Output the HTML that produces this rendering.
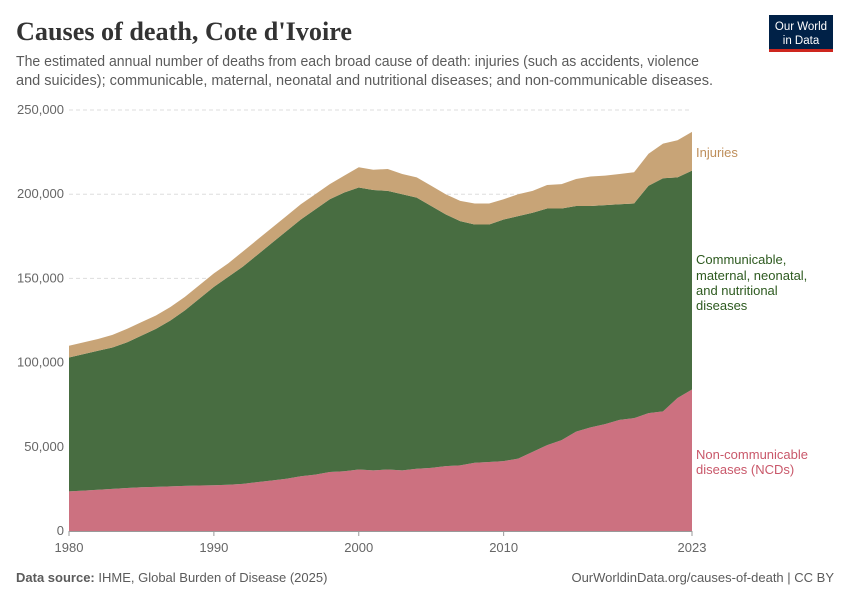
<!DOCTYPE html>
<html><head><meta charset="utf-8"><style>
body{margin:0;background:#fff;}
svg{display:block;font-family:"Liberation Sans",sans-serif;}
</style></head><body>
<svg id="chart" width="850" height="600" viewBox="0 0 850 600">
<text x="16" y="40" font-family="Liberation Serif,serif" font-size="26" font-weight="bold" fill="#333" textLength="336" lengthAdjust="spacingAndGlyphs">Causes of death, Cote d'Ivoire</text>
<text x="16" y="66" font-size="14.5" fill="#5b5b5b" textLength="683" lengthAdjust="spacingAndGlyphs">The estimated annual number of deaths from each broad cause of death: injuries (such as accidents, violence</text>
<text x="16" y="85" font-size="14.5" fill="#5b5b5b" textLength="697" lengthAdjust="spacingAndGlyphs">and suicides); communicable, maternal, neonatal and nutritional diseases; and non-communicable diseases.</text>
<g>
<rect x="769" y="15" width="64" height="35" fill="#002147"/>
<rect x="769" y="49" width="64" height="3" fill="#ce261e"/>
<text x="801" y="30" font-size="11.5" fill="#fff" text-anchor="middle">Our World</text>
<text x="801" y="44" font-size="11.5" fill="#fff" text-anchor="middle">in Data</text>
</g>
<g id="grid"></g>
<g id="areas"></g>
<g id="axes"></g>
<text x="696" y="157" font-size="13" fill="#be8e5a">Injuries</text>
<g font-size="13" fill="#2d5a1f">
<text x="696" y="264">Communicable,</text><text x="696" y="280">maternal, neonatal,</text><text x="696" y="295">and nutritional</text><text x="696" y="310">diseases</text></g>
<g font-size="13" fill="#c9586a">
<text x="696" y="459">Non-communicable</text><text x="696" y="474">diseases (NCDs)</text></g>
<text x="16" y="582" font-size="13" fill="#5b5b5b"><tspan font-weight="bold">Data source:</tspan> IHME, Global Burden of Disease (2025)</text>
<text x="834" y="582" font-size="13" fill="#5b5b5b" text-anchor="end">OurWorldinData.org/causes-of-death | CC BY</text>
</svg>
<script>
const years=[1980,1981,1982,1983,1984,1985,1986,1987,1988,1989,1990,1991,1992,1993,1994,1995,1996,1997,1998,1999,2000,2001,2002,2003,2004,2005,2006,2007,2008,2009,2010,2011,2012,2013,2014,2015,2016,2017,2018,2019,2020,2021,2022,2023];
const ncd=[23.5,24,24.5,25,25.5,26,26.2,26.5,26.8,27,27.2,27.5,28,29,30,31,32.5,33.5,35,35.5,36.5,36,36.5,36,37,37.5,38.5,39,40.5,41,41.5,43,47,51,54,59,61.5,63.5,66,67,70,71,79,84];
const communicable=[79.5,81,82.5,84,86.5,90,93.8,98.5,104.2,111,117.8,123.5,129,135,141,147,152.5,157.5,162,165.5,167.5,166.5,165.5,164,161,155.5,149.5,145,141.5,141,143.5,144,142,140.5,137.5,134,131.5,130,128,127.5,135,138.5,131,130];
const injuries=[7,7,7,7.5,8,8,8,8,8,8,8,8,9,9,9,9,9,9,9,10,12,12,13,12,12,12,12,12,12.5,12.5,12,13,13,14,14.5,16,17.5,17.5,18,18.5,19,20.5,22,23];
const yTicks=[0,50000,100000,150000,200000,250000];
const xTicks=[1980,1990,2000,2010,2023];
const NS="http://www.w3.org/2000/svg";
const x=y=>69+(y-1980)*(692-69)/43;
const yv=v=>531-v*(421/250);
const grid=document.getElementById('grid'),areas=document.getElementById('areas'),axes=document.getElementById('axes');
yTicks.forEach(t=>{
 if(t>0){const l=document.createElementNS(NS,'line');
 l.setAttribute('x1',69);l.setAttribute('x2',692);l.setAttribute('y1',yv(t/1000));l.setAttribute('y2',yv(t/1000));
 l.setAttribute('stroke','#ddd');l.setAttribute('stroke-dasharray','4,3');
 
 
 grid.appendChild(l);}
 const tx=document.createElementNS(NS,'text');
 tx.setAttribute('x',64);tx.setAttribute('y',yv(t/1000)+4);tx.setAttribute('text-anchor','end');
 tx.setAttribute('font-size','13');tx.setAttribute('fill','#666');
 tx.textContent=t.toLocaleString('en-US');
 
 
 axes.appendChild(tx);
});
const series=[[ncd,'#cc7180','area-ncds'],[communicable,'#486d41','area-communicable'],[injuries,'#c8a477','area-injuries']];
let base=years.map(()=>0);
series.forEach(([vals,col,name])=>{
 const top=base.map((b,i)=>b+vals[i]);
 let d='M'+years.map((yr,i)=>x(yr)+','+yv(top[i])).join('L');
 for(let i=years.length-1;i>=0;i--) d+='L'+x(years[i])+','+yv(base[i]);
 d+='Z';
 const p=document.createElementNS(NS,'path');
 p.setAttribute('d',d);p.setAttribute('fill',col);
 
 
 areas.appendChild(p);
 base=top;
});
const ax=document.createElementNS(NS,'line');
ax.setAttribute('x1',69);ax.setAttribute('x2',692);ax.setAttribute('y1',531.5);ax.setAttribute('y2',531.5);ax.setAttribute('stroke','#999');


axes.appendChild(ax);
xTicks.forEach(t=>{
 const l=document.createElementNS(NS,'line');
 l.setAttribute('x1',x(t));l.setAttribute('x2',x(t));l.setAttribute('y1',531);l.setAttribute('y2',536);l.setAttribute('stroke','#999');
 
 
 axes.appendChild(l);
 const tx=document.createElementNS(NS,'text');
 tx.setAttribute('x',x(t));tx.setAttribute('y',552);tx.setAttribute('text-anchor','middle');
 tx.setAttribute('font-size','13');tx.setAttribute('fill','#666');
 tx.textContent=t;
 
 
 axes.appendChild(tx);
});
</script>
</body></html>
